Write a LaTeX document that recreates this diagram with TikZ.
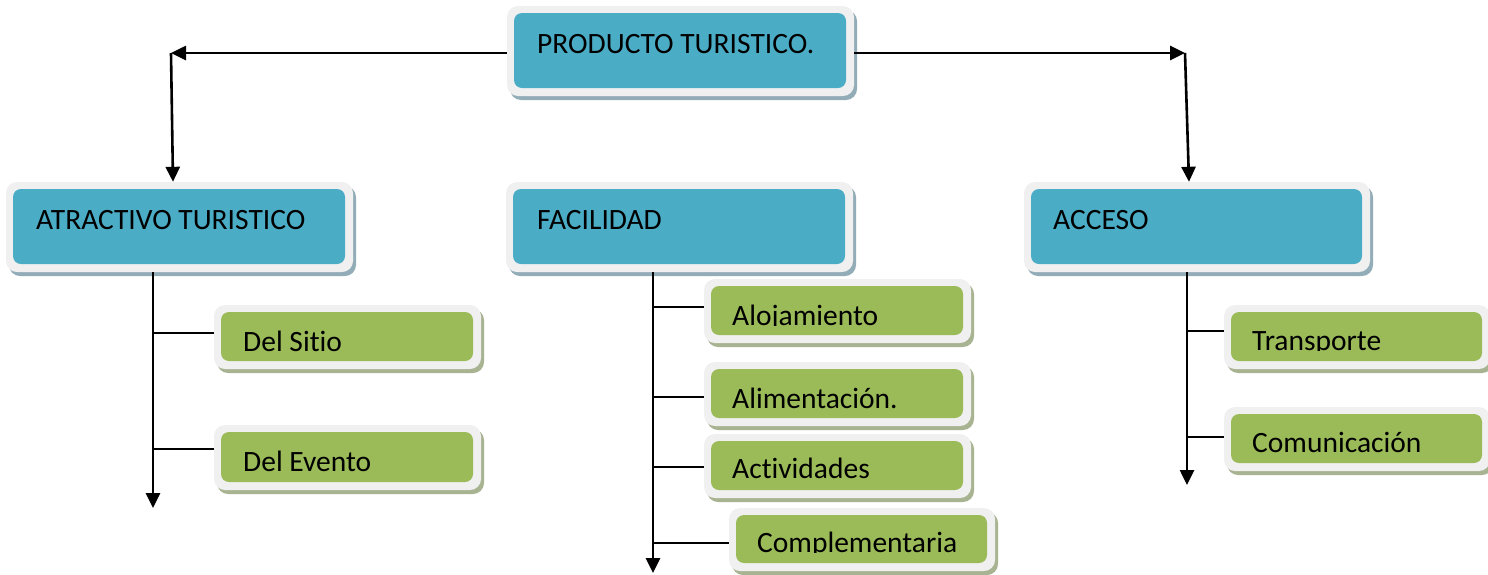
\documentclass[tikz,border=0pt]{standalone}
\usepackage{fontspec}
\setmainfont{Carlito}[Ligatures={NoCommon}]
\usetikzlibrary{arrows.meta}
\definecolor{bluebox}{HTML}{4BACC6}
\definecolor{greenbox}{HTML}{9BBB59}
\definecolor{blueshadow}{HTML}{93ADB8}
\definecolor{greenshadow}{HTML}{A8B392}
\definecolor{outerc}{HTML}{F0F0F0}
\tikzset{
  outerbox/.style={draw=none, fill=outerc, rounded corners=11pt, inner sep=0pt},
  innerbox/.style={draw=none, rounded corners=8pt, inner sep=0pt},
  lbl/.style={inner sep=0pt, font=\fontsize{29.5}{34}\selectfont, text=black},
  arr/.style={-{Triangle[length=15pt,width=14pt]}, line width=2.6pt},
  ln/.style={line width=2.6pt}
}
% #1 name, #2 x1, #3 y1, #4 x2, #5 y2 (inner box), #6 fill, #7 shadow
\newcommand{\diagbox}[7]{%
  \fill[#7, rounded corners=11pt] ({#2-7+3},{#3-7+4}) rectangle ({#4+8+3},{#5+8+4});
  \node[outerbox, minimum width={#4-#2+15}, minimum height={#5-#3+15}] (#1) at ({(#2+#4)/2+0.5},{(#3+#5)/2+0.5}) {};
  \node[innerbox, fill=#6, minimum width={#4-#2}, minimum height={#5-#3}] (#1-in) at ({(#2+#4)/2},{(#3+#5)/2}) {};
}
% #1 name, #2 x, #3 baseline, #4 text (clipped just below baseline)
\newcommand{\cliptext}[4]{%
  \begin{scope}
    \clip ({#2-20},{#3-45}) rectangle ({#2+300},{#3+0.8});
    \node[lbl, anchor=base west] (#1) at (#2,#3) {#4};
  \end{scope}
}
\begin{document}
\begin{tikzpicture}[x=1pt,y=-1pt]
\useasboundingbox (0,0) rectangle (1488,574);
% blue boxes
\diagbox{prod}{514}{13}{846}{88}{bluebox}{blueshadow}
\diagbox{atr}{13}{189}{345}{264}{bluebox}{blueshadow}
\diagbox{fac}{513}{189}{845}{264}{bluebox}{blueshadow}
\diagbox{acc}{1031}{189}{1362}{264}{bluebox}{blueshadow}
\node[lbl, anchor=base west] (prod-t) at (537,53) {PRODUCTO TURISTICO.};
\node[lbl, anchor=base west] (atr-t) at (36,229) {ATRACTIVO TURISTICO};
\node[lbl, anchor=base west] (fac-t) at (537,229) {FACILIDAD};
\node[lbl, anchor=base west] (acc-t) at (1053,229) {ACCESO};
% green boxes
\diagbox{sitio}{221}{312}{473}{361}{greenbox}{greenshadow}
\diagbox{evento}{221}{432}{473}{482}{greenbox}{greenshadow}
\diagbox{aloj}{711}{286}{963}{335}{greenbox}{greenshadow}
\diagbox{alim}{711}{369}{963}{418}{greenbox}{greenshadow}
\diagbox{activ}{711}{441}{963}{490}{greenbox}{greenshadow}
\diagbox{compl}{736}{515}{987}{563}{greenbox}{greenshadow}
\diagbox{transp}{1231}{312}{1482}{361}{greenbox}{greenshadow}
\diagbox{comun}{1231}{414}{1482}{463}{greenbox}{greenshadow}
\cliptext{sitio-t}{243}{351}{Del Sitio}
\cliptext{evento-t}{243}{471}{Del Evento}
\cliptext{aloj-t}{732}{325}{Alojamiento}
\cliptext{alim-t}{732}{408}{Alimentación.}
\cliptext{activ-t}{732}{478}{Actividades}
\cliptext{compl-t}{757}{552}{Complementaria}
\cliptext{transp-t}{1252}{350}{Transporte}
\cliptext{comun-t}{1252}{452}{Comunicación}
% top connectors
\coordinate (tl) at (171,53);
\coordinate (tr) at (1185,53);
\coordinate (atrtip) at (173,0);
\coordinate (acctip) at (1189,0);
\draw[arr] (prod.west |- tl) -- (tl);
\draw[arr] (tl) -- (atr.north -| atrtip);
\draw[arr] (prod.east |- tr) -- (tr);
\draw[arr] (tr) -- (acc.north -| acctip);
% trunks
\coordinate (atrend) at (153,508);
\coordinate (facend) at (653,573);
\coordinate (accend) at (1187,485);
\draw[arr] (atr.south -| atrend) -- (atrend);
\draw[arr] (fac.south -| facend) -- (facend);
\draw[arr] (acc.south -| accend) -- (accend);
% branches
\coordinate (b1) at (153,333);
\coordinate (b2) at (153,449);
\coordinate (b3) at (653,307);
\coordinate (b4) at (653,397);
\coordinate (b5) at (653,467);
\coordinate (b6) at (653,543);
\coordinate (b7) at (1187,331);
\coordinate (b8) at (1187,437);
\draw[ln] (b1) -- (b1 -| sitio.west);
\draw[ln] (b2) -- (b2 -| evento.west);
\draw[ln] (b3) -- (b3 -| aloj.west);
\draw[ln] (b4) -- (b4 -| alim.west);
\draw[ln] (b5) -- (b5 -| activ.west);
\draw[ln] (b6) -- (b6 -| compl.west);
\draw[ln] (b7) -- (b7 -| transp.west);
\draw[ln] (b8) -- (b8 -| comun.west);
\end{tikzpicture}
\end{document}
